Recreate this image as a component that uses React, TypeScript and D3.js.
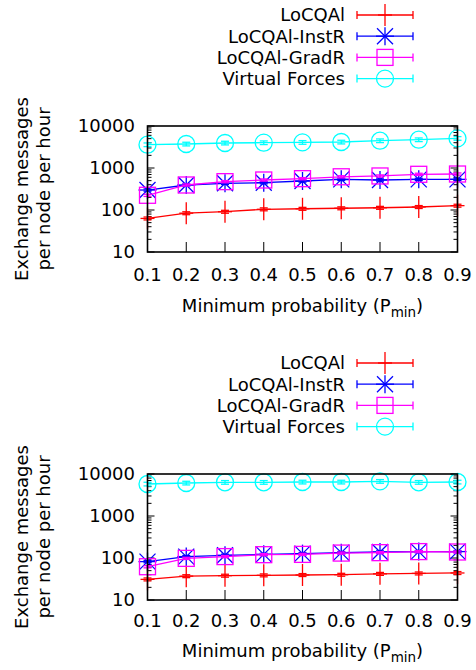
import React from "react";
import * as d3 from "d3";

const pmin = [0.1, 0.2, 0.3, 0.4, 0.5, 0.6, 0.7, 0.8, 0.9];
const xTickLabels = ["0.1", "0.2", "0.3", "0.4", "0.5", "0.6", "0.7", "0.8", "0.9"];
const yTicks = [10, 100, 1000, 10000];
const yTickLabels = ["10", "100", "1000", "10000"];

const seriesNames = ["LoCQAl", "LoCQAl-InstR", "LoCQAl-GradR", "Virtual Forces"];
const seriesColors = ["#ff0000", "#0000ff", "#ff00ff", "#00ffff"];
const seriesMarkers = ["plus", "star", "square", "circle"];
const errFrac = [0.08, 0.06, 0.06, 0.1];

// Top panel
const locqalTop = [63, 84, 91, 104, 107, 110, 113, 118, 127];
const instrTop = [299, 394, 432, 447, 490, 537, 518, 537, 537];
const gradrTop = [224, 394, 473, 518, 557, 618, 646, 708, 719];
const vfTop = [3590, 3730, 3940, 4010, 4080, 4160, 4470, 4720, 5080];

// Bottom panel
const locqalBot = [31, 37, 38, 38.7, 39.4, 40, 42, 43, 44];
const instrBot = [82, 108, 116, 122, 127, 134, 139, 142, 142];
const gradrBot = [62, 98, 108, 120, 122, 131, 134, 142, 139];
const vfBot = [5780, 6100, 6340, 6340, 6450, 6450, 6690, 6340, 6450];

const FONT = "'DejaVu Sans', sans-serif";
const FS = 18;

function Marker({ type, x, y, color }: { type: string; x: number; y: number; color: string }) {
  const sw = 1.3;
  if (type === "plus") {
    return (
      <g stroke={color} strokeWidth={sw} fill="none">
        <line x1={x - 7} x2={x + 7} y1={y} y2={y} />
        <line x1={x} x2={x} y1={y - 11} y2={y + 11} />
      </g>
    );
  }
  if (type === "star") {
    return (
      <g stroke={color} strokeWidth={sw} fill="none">
        <line x1={x - 9} x2={x + 9} y1={y} y2={y} />
        <line x1={x} x2={x} y1={y - 9} y2={y + 9} />
        <line x1={x - 8} x2={x + 8} y1={y - 8} y2={y + 8} />
        <line x1={x - 8} x2={x + 8} y1={y + 8} y2={y - 8} />
      </g>
    );
  }
  if (type === "square") {
    return <rect x={x - 8} y={y - 8} width={16} height={16} stroke={color} strokeWidth={sw} fill="none" />;
  }
  return <circle cx={x} cy={y} r={8.5} stroke={color} strokeWidth={sw} fill="none" />;
}

function Panel({
  oy,
  data,
  tickBase,
  labelBase,
}: {
  oy: number;
  data: number[][];
  tickBase: number;
  labelBase: number;
}) {
  const left = 147.5;
  const right = 457.5;
  const top = 126 + oy;
  const bottom = 252 + oy;
  const x = d3.scaleLinear().domain([0.1, 0.9]).range([left, right]);
  const y = d3.scaleLog().domain([10, 10000]).range([bottom, top]);
  const line = d3
    .line<number>()
    .x((_, i) => x(pmin[i]))
    .y((d) => y(d));

  const minor: number[] = [];
  [10, 100, 1000].forEach((dec) => {
    for (let k = 2; k <= 9; k++) minor.push(dec * k);
  });

  const legendY0 = 15 + oy;
  const legendStep = 21.2;

  return (
    <g>
      {/* legend */}
      {seriesNames.map((n, i) => {
        const ly = legendY0 + i * legendStep;
        return (
          <g key={n}>
            <text x={345} y={ly} dy="0.36em" textAnchor="end" fontFamily={FONT} fontSize={FS}>
              {n}
            </text>
            <g stroke={seriesColors[i]} strokeWidth={1.3}>
              <line x1={357} x2={413} y1={ly} y2={ly} />
              <line x1={357} x2={357} y1={ly - 4} y2={ly + 4} />
              <line x1={413} x2={413} y1={ly - 4} y2={ly + 4} />
            </g>
            <Marker type={seriesMarkers[i]} x={385} y={ly} color={seriesColors[i]} />
          </g>
        );
      })}

      {/* ticks */}
      <g stroke="#000" strokeWidth={1}>
        {yTicks.map((t) => (
          <g key={t}>
            <line x1={left} x2={left + 7} y1={y(t)} y2={y(t)} />
            <line x1={right} x2={right - 7} y1={y(t)} y2={y(t)} />
          </g>
        ))}
        {minor.map((t) => (
          <g key={t}>
            <line x1={left} x2={left + 4} y1={y(t)} y2={y(t)} />
            <line x1={right} x2={right - 4} y1={y(t)} y2={y(t)} />
          </g>
        ))}
        {pmin.map((p) => (
          <line key={p} x1={x(p)} x2={x(p)} y1={bottom} y2={bottom - 10} />
        ))}
      </g>

      {/* tick labels */}
      {yTicks.map((t, i) => (
        <text key={t} x={135} y={y(t)} dy="0.36em" textAnchor="end" fontFamily={FONT} fontSize={FS}>
          {yTickLabels[i]}
        </text>
      ))}
      {pmin.map((p, i) => (
        <text key={p} x={x(p)} y={tickBase} textAnchor="middle" fontFamily={FONT} fontSize={FS}>
          {xTickLabels[i]}
        </text>
      ))}

      {/* axis labels */}
      <text x={(left + right) / 2} y={labelBase} textAnchor="middle" fontFamily={FONT} fontSize={FS}>
        Minimum probability (P
        <tspan fontSize={13.5} dy={5}>min</tspan>
        <tspan dy={-5}>)</tspan>
      </text>
      <text
        transform={`translate(28,${(top + bottom) / 2}) rotate(-90)`}
        textAnchor="middle"
        fontFamily={FONT}
        fontSize={FS}
      >
        Exchange messages
      </text>
      <text
        transform={`translate(50,${(top + bottom) / 2}) rotate(-90)`}
        textAnchor="middle"
        fontFamily={FONT}
        fontSize={FS}
      >
        per node per hour
      </text>

      {/* series */}
      {data.map((vals, si) => (
        <g key={si}>
          <path d={line(vals) || ""} fill="none" stroke={seriesColors[si]} strokeWidth={1.3} />
          {vals.map((v, i) => {
            const px = x(pmin[i]);
            const lo = y(v * (1 - errFrac[si]));
            const hi = y(v * (1 + errFrac[si]));
            return (
              <g key={i}>
                <g stroke={seriesColors[si]} strokeWidth={1.3}>
                  <line x1={px} x2={px} y1={lo} y2={hi} />
                  <line x1={px - 4} x2={px + 4} y1={lo} y2={lo} />
                  <line x1={px - 4} x2={px + 4} y1={hi} y2={hi} />
                </g>
                <Marker type={seriesMarkers[si]} x={px} y={y(v)} color={seriesColors[si]} />
              </g>
            );
          })}
        </g>
      ))}

      {/* frame */}
      <rect x={left} y={top} width={right - left} height={bottom - top} fill="none" stroke="#000" strokeWidth={1.6} />
    </g>
  );
}

export default function App() {
  return (
    <svg
      width={476}
      height={670}
      style={{ position: "absolute", left: 0, top: 0, display: "block", background: "#fff" }}
    >
      <rect width={476} height={670} fill="#fff" />
      <Panel oy={0} data={[locqalTop, instrTop, gradrTop, vfTop]} tickBase={281} labelBase={312} />
      <Panel oy={348} data={[locqalBot, instrBot, gradrBot, vfBot]} tickBase={627} labelBase={657} />
    </svg>
  );
}
